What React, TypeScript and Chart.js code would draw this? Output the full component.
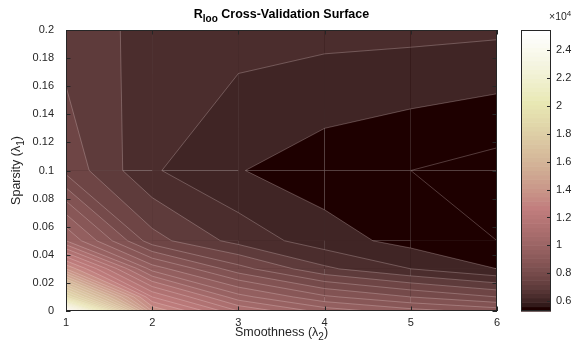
import React, { useEffect, useRef } from "react";
import { Chart, registerables } from "chart.js";

Chart.register(...registerables);

// Grid of the surface
const smoothness = [1, 2, 3, 4, 5, 6]; // λ2 (x)
const sparsity = [0, 0.01, 0.03, 0.05, 0.1, 0.2]; // λ1 (y)

// R_loo values, one row per sparsity value (columns follow smoothness)
const rlooAt0000 = [25450, 14000, 11500, 10300, 9700, 9300];
const rlooAt0010 = [19500, 12500, 10200, 9100, 8500, 8000];
const rlooAt0030 = [14000, 9800, 8200, 7100, 6500, 6000];
const rlooAt0050 = [10500, 7700, 6817, 6223, 5825, 5500];
const rlooAt0100 = [7846, 6560, 6025, 5717, 5500, 5290];
const rlooAt0200 = [7269, 6842, 6713, 6660, 6640, 6590];
const rlooRows = [rlooAt0000, rlooAt0010, rlooAt0030, rlooAt0050, rlooAt0100, rlooAt0200];

const contourLevels = [
  5500, 6000, 6500, 7000, 7500, 8000, 8500, 9000, 9500, 10000,
  10500, 11000, 11500, 12000, 12500, 13000, 13500, 14000, 14500, 15000,
  15500, 16000, 16500, 17000, 17500, 18000, 18500, 19000, 19500, 20000,
  20500, 21000, 21500, 22000, 22500, 23000, 23500, 24000, 24500, 25000,
];

const xTickValues = [1, 2, 3, 4, 5, 6];
const yTickValues = [0, 0.02, 0.04, 0.06, 0.08, 0.1, 0.12, 0.14, 0.16, 0.18, 0.2];
const colorbarTickValues = [6000, 8000, 10000, 12000, 14000, 16000, 18000, 20000, 22000, 24000];
const colorMin = 5290;
const colorMax = 25450;

const FAMILY = "'Liberation Sans', Arial, Helvetica, sans-serif";
const INK = "#262626";

// MATLAB "pink" colormap with 64 entries
function pinkColormap(m: number): string[] {
  const n1 = Math.floor((3 / 8) * m);
  const n3 = m - 2 * n1;
  const out: string[] = [];
  for (let k = 0; k < m; k++) {
    const gray = k / (m - 1);
    const hr = k < n1 ? (k + 1) / n1 : 1;
    const hg = k < n1 ? 0 : k < 2 * n1 ? (k + 1 - n1) / n1 : 1;
    const hb = k < 2 * n1 ? 0 : (k + 1 - 2 * n1) / n3;
    const f = (h: number) => Math.round(255 * Math.sqrt((2 * gray + h) / 3));
    out.push(`rgb(${f(hr)},${f(hg)},${f(hb)})`);
  }
  return out;
}
const PINK = pinkColormap(64);

function colorForValue(v: number): string {
  let k = Math.floor(((v - colorMin) / (colorMax - colorMin)) * 64);
  if (k < 0) k = 0;
  if (k > 63) k = 63;
  return PINK[k];
}
function bandLower(v: number): number {
  let lower = colorMin;
  for (const L of contourLevels) if (L <= v) lower = L;
  return lower;
}

type Part = { t: string; size: number; dy?: number; bold?: boolean };
function drawRich(ctx: CanvasRenderingContext2D, parts: Part[], x: number, baseline: number, align: "center" | "left") {
  const widths = parts.map((p) => {
    ctx.font = `${p.bold ? "bold " : ""}${p.size}px ${FAMILY}`;
    return ctx.measureText(p.t).width;
  });
  const total = widths.reduce((a, b) => a + b, 0);
  let cx = align === "center" ? x - total / 2 : x;
  ctx.textAlign = "left";
  ctx.textBaseline = "alphabetic";
  parts.forEach((p, i) => {
    ctx.font = `${p.bold ? "bold " : ""}${p.size}px ${FAMILY}`;
    ctx.fillText(p.t, cx, baseline + (p.dy || 0));
    cx += widths[i];
  });
}

const contourPlugin = {
  id: "contourFill",
  beforeDatasetsDraw(chart: any) {
    const { ctx, chartArea: a, scales } = chart;
    const xs = scales.x;
    const ys = scales.y;
    const px = (x: number) => xs.getPixelForValue(x);
    const py = (y: number) => ys.getPixelForValue(y);
    ctx.save();
    ctx.beginPath();
    ctx.rect(a.left, a.top, a.right - a.left, a.bottom - a.top);
    ctx.clip();

    const cells: number[][][] = [];
    for (let j = 0; j < sparsity.length - 1; j++) {
      for (let i = 0; i < smoothness.length - 1; i++) {
        cells.push([
          [smoothness[i], sparsity[j], rlooRows[j][i]],
          [smoothness[i + 1], sparsity[j], rlooRows[j][i + 1]],
          [smoothness[i + 1], sparsity[j + 1], rlooRows[j + 1][i + 1]],
          [smoothness[i], sparsity[j + 1], rlooRows[j + 1][i]],
        ]);
      }
    }
    const fillPoly = (pts: number[][]) => {
      ctx.beginPath();
      pts.forEach((p, k) => (k ? ctx.lineTo(px(p[0]), py(p[1])) : ctx.moveTo(px(p[0]), py(p[1]))));
      ctx.closePath();
      ctx.fill();
    };
    const cross = (p: number[], q: number[], L: number) => {
      const t = (L - p[2]) / (q[2] - p[2]);
      return [p[0] + t * (q[0] - p[0]), p[1] + t * (q[1] - p[1]), L];
    };

    for (const P of cells) {
      const zs = P.map((p) => p[2]);
      const zmin = Math.min(...zs);
      const zmax = Math.max(...zs);
      ctx.fillStyle = colorForValue(bandLower(zmin));
      fillPoly(P);
      for (const L of contourLevels) {
        if (L <= zmin || L > zmax) continue;
        const poly: number[][] = [];
        for (let k = 0; k < 4; k++) {
          const p = P[k];
          const q = P[(k + 1) % 4];
          if (p[2] >= L) poly.push(p);
          if (p[2] >= L !== q[2] >= L) poly.push(cross(p, q, L));
        }
        ctx.fillStyle = colorForValue(L);
        fillPoly(poly);
      }
    }

    ctx.strokeStyle = "rgba(255,235,235,0.42)";
    ctx.lineWidth = 0.6;
    for (const P of cells) {
      const zs = P.map((p) => p[2]);
      const zmin = Math.min(...zs);
      const zmax = Math.max(...zs);
      for (const L of contourLevels) {
        if (L < zmin || L > zmax) continue;
        const pts: number[][] = [];
        for (let k = 0; k < 4; k++) {
          const p = P[k];
          const q = P[(k + 1) % 4];
          if (p[2] >= L !== q[2] >= L) pts.push(cross(p, q, L));
        }
        for (let k = 0; k + 1 < pts.length; k += 2) {
          ctx.beginPath();
          ctx.moveTo(px(pts[k][0]), py(pts[k][1]));
          ctx.lineTo(px(pts[k + 1][0]), py(pts[k + 1][1]));
          ctx.stroke();
        }
      }
    }
    ctx.restore();
  },
  afterDraw(chart: any) {
    const { ctx, chartArea: a, scales } = chart;
    const xs = scales.x;
    const ys = scales.y;
    const cb = scales.cb;
    ctx.save();
    ctx.strokeStyle = INK;
    ctx.lineWidth = 1;
    ctx.strokeRect(Math.round(a.left) + 0.5, Math.round(a.top) + 0.5, Math.round(a.right - a.left) - 1, Math.round(a.bottom - a.top) - 1);
    const tl = 4.5;
    ctx.beginPath();
    for (const v of xTickValues) {
      const x = Math.round(xs.getPixelForValue(v)) + 0.5;
      ctx.moveTo(x, a.bottom);
      ctx.lineTo(x, a.bottom - tl);
      ctx.moveTo(x, a.top);
      ctx.lineTo(x, a.top + tl);
    }
    for (const v of yTickValues) {
      const y = Math.round(ys.getPixelForValue(v)) + 0.5;
      ctx.moveTo(a.left, y);
      ctx.lineTo(a.left + tl, y);
      ctx.moveTo(a.right, y);
      ctx.lineTo(a.right - tl, y);
    }
    ctx.stroke();

    // colorbar
    const cbLeft = 521;
    const cbRight = 551;
    const step = (colorMax - colorMin) / 64;
    for (let k = 0; k < 64; k++) {
      const y1 = cb.getPixelForValue(colorMin + k * step);
      const y2 = cb.getPixelForValue(colorMin + (k + 1) * step);
      ctx.fillStyle = PINK[k];
      ctx.fillRect(cbLeft, y2, cbRight - cbLeft, y1 - y2 + 0.6);
    }
    ctx.strokeStyle = INK;
    ctx.strokeRect(cbLeft + 0.5, Math.round(cb.top) + 0.5, cbRight - cbLeft - 1, Math.round(cb.bottom - cb.top) - 1);
    ctx.beginPath();
    for (const v of colorbarTickValues) {
      const y = Math.round(cb.getPixelForValue(v)) + 0.5;
      ctx.moveTo(cbRight - 1, y);
      ctx.lineTo(cbRight - 4, y);
    }
    ctx.stroke();

    ctx.fillStyle = "#000";
    drawRich(
      ctx,
      [
        { t: "R", size: 12.5, bold: true },
        { t: "loo", size: 10, bold: true, dy: 4 },
        { t: " Cross-Validation Surface", size: 12.5, bold: true },
      ],
      (a.left + a.right) / 2,
      18,
      "center"
    );
    ctx.fillStyle = INK;
    drawRich(
      ctx,
      [
        { t: "Smoothness (λ", size: 12.5 },
        { t: "2", size: 10, dy: 4 },
        { t: ")", size: 12.5 },
      ],
      (a.left + a.right) / 2,
      336,
      "center"
    );
    ctx.save();
    ctx.translate(20, (a.top + a.bottom) / 2);
    ctx.rotate(-Math.PI / 2);
    drawRich(
      ctx,
      [
        { t: "Sparsity (λ", size: 12.5 },
        { t: "1", size: 10, dy: 4 },
        { t: ")", size: 12.5 },
      ],
      0,
      0,
      "center"
    );
    ctx.restore();
    drawRich(
      ctx,
      [
        { t: "×10", size: 10.5 },
        { t: "4", size: 8, dy: -4 },
      ],
      549,
      20,
      "left"
    );
    ctx.restore();
  },
};

const gridPoints: { x: number; y: number }[] = [];
sparsity.forEach((y) => smoothness.forEach((x) => gridPoints.push({ x, y })));

const noPad = (s: any) => {
  s.paddingTop = 0;
  s.paddingBottom = 0;
  s.paddingLeft = 0;
  s.paddingRight = 0;
};

export default function App() {
  const ref = useRef<HTMLCanvasElement | null>(null);
  useEffect(() => {
    if (!ref.current) return;
    const tickFont = { size: 11, family: FAMILY };
    const hiddenGrid = { display: false, drawTicks: false };
    const chart = new Chart(ref.current, {
      type: "scatter",
      data: {
        datasets: [{ data: gridPoints, pointRadius: 0, pointHoverRadius: 0, showLine: false }],
      },
      options: {
        animation: false,
        responsive: false,
        devicePixelRatio: 1,
        layout: { padding: { top: 30, left: 0, right: 0, bottom: 0 } },
        plugins: { legend: { display: false }, tooltip: { enabled: false }, title: { display: false } },
        scales: {
          x: {
            type: "linear",
            position: "bottom",
            min: 1,
            max: 6,
            grid: hiddenGrid,
            border: { display: false },
            ticks: { font: tickFont, color: INK, padding: 5, maxRotation: 0, autoSkip: false, callback: (v: any) => String(v) },
            afterBuildTicks: (s: any) => {
              s.ticks = xTickValues.map((v) => ({ value: v }));
            },
            afterFit: (s: any) => {
              s.height = 40;
              noPad(s);
            },
          },
          y: {
            type: "linear",
            position: "left",
            min: 0,
            max: 0.2,
            grid: hiddenGrid,
            border: { display: false },
            ticks: { font: tickFont, color: INK, padding: 12, autoSkip: false, callback: (v: any) => String(Number(Number(v).toFixed(2))) },
            afterBuildTicks: (s: any) => {
              s.ticks = yTickValues.map((v) => ({ value: v }));
            },
            afterFit: (s: any) => {
              s.width = 66;
              noPad(s);
            },
          },
          cb: {
            type: "linear",
            axis: "y",
            position: "right",
            min: colorMin,
            max: colorMax,
            grid: hiddenGrid,
            border: { display: false },
            ticks: { font: tickFont, color: INK, padding: 59, autoSkip: false, callback: (v: any) => String(Number((Number(v) / 10000).toFixed(1))) },
            afterBuildTicks: (s: any) => {
              s.ticks = colorbarTickValues.map((v) => ({ value: v }));
            },
            afterFit: (s: any) => {
              s.width = 84;
              noPad(s);
            },
          },
        },
      } as any,
      plugins: [contourPlugin],
    });
    return () => chart.destroy();
  }, []);
  return (
    <div style={{ position: "absolute", left: 0, top: 0, width: 581, height: 351, background: "#fff" }}>
      <canvas ref={ref} width={581} height={351} style={{ width: 581, height: 351, display: "block" }} />
    </div>
  );
}
